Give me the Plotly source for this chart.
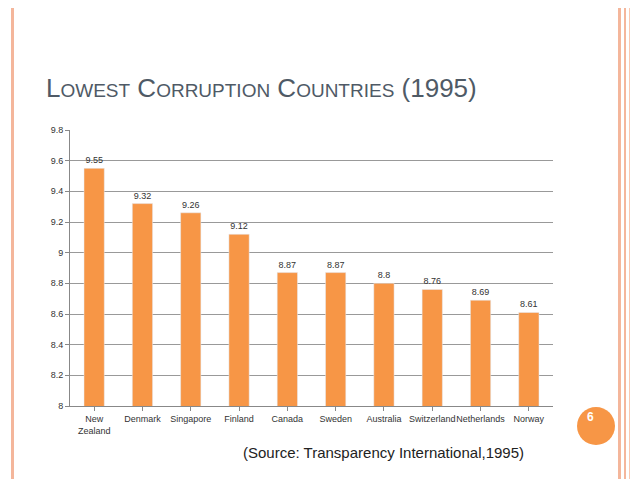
import plotly.graph_objects as go

countries = ["New<br>Zealand", "Denmark", "Singapore", "Finland", "Canada", "Sweden",
             "Australia", "Switzerland", "Netherlands", "Norway"]
scores = [9.55, 9.32, 9.26, 9.12, 8.87, 8.87, 8.8, 8.76, 8.69, 8.61]
score_labels = ["9.55", "9.32", "9.26", "9.12", "8.87", "8.87", "8.8", "8.76", "8.69", "8.61"]
yticks = [8, 8.2, 8.4, 8.6, 8.8, 9, 9.2, 9.4, 9.6, 9.8]

orange = "#F79646"
peach = "#F4B69B"

fig = go.Figure(go.Bar(x=countries, y=scores, marker_color=orange, width=0.42,
                       text=score_labels, textposition="outside",
                       textfont=dict(size=9, color="#333"), cliponaxis=False))

fig.update_layout(
    width=638, height=479, margin=dict(l=62, r=93, t=122, b=81, autoexpand=False),
    plot_bgcolor="white", paper_bgcolor="white", showlegend=False,
    font=dict(family="Liberation Sans, Arial, sans-serif", color="#333"),
    xaxis=dict(tickfont=dict(size=9), tickangle=0, automargin=False, showline=True,
               linecolor="#888", ticks="outside", tickcolor="#888", ticklen=4),
    yaxis=dict(range=[8, 9.8], tickvals=yticks, ticktext=[f"{v:g}" for v in yticks],
               automargin=False, tickfont=dict(size=9), showgrid=True, gridcolor="#999",
               showline=True, linecolor="#888", ticks="outside", tickcolor="#888", ticklen=4),
    title=dict(text="L<span style='font-size:19px'>OWEST</span> C<span style='font-size:19px'>ORRUPTION</span> "
                    "C<span style='font-size:19px'>OUNTRIES</span> (1995)",
               x=38 / 638, xanchor="left", y=1 - 80 / 479, yanchor="middle",
               font=dict(size=26, color="#4F5A66")),
)

full = dict(xref="paper", yref="paper", y0=-81 / 276, y1=(479 - 81) / 276, line_width=0)
fig.update_layout(shapes=[
    dict(type="rect", x0=(3 - 62) / 483, x1=(6 - 62) / 483, fillcolor=peach, **full),
    dict(type="rect", x0=(610 - 62) / 483, x1=(613 - 62) / 483, fillcolor=peach, **full),
    dict(type="rect", x0=(616 - 62) / 483, x1=(618 - 62) / 483, fillcolor=peach, **full),
    dict(type="rect", x0=(621 - 62) / 483, x1=(638 - 62) / 483, fillcolor="#FAC8B0", **full),
    dict(type="circle", xref="paper", yref="paper", x0=(569 - 62) / 483, x1=(607 - 62) / 483,
         y0=(398 - 437) / 276, y1=(398 - 399) / 276, fillcolor=orange, line_width=0),
])
fig.add_annotation(text="<b>6</b>", xref="paper", yref="paper", x=(588 - 62) / 483, y=(398 - 418) / 276,
                   showarrow=False, font=dict(size=12, color="white"))
fig.add_annotation(text="(Source: Transparency International,1995)", xref="paper", yref="paper",
                   x=(375 - 62) / 483, y=(398 - 455) / 276, showarrow=False,
                   font=dict(size=15, color="#222"))

fig.write_html("out.html")
